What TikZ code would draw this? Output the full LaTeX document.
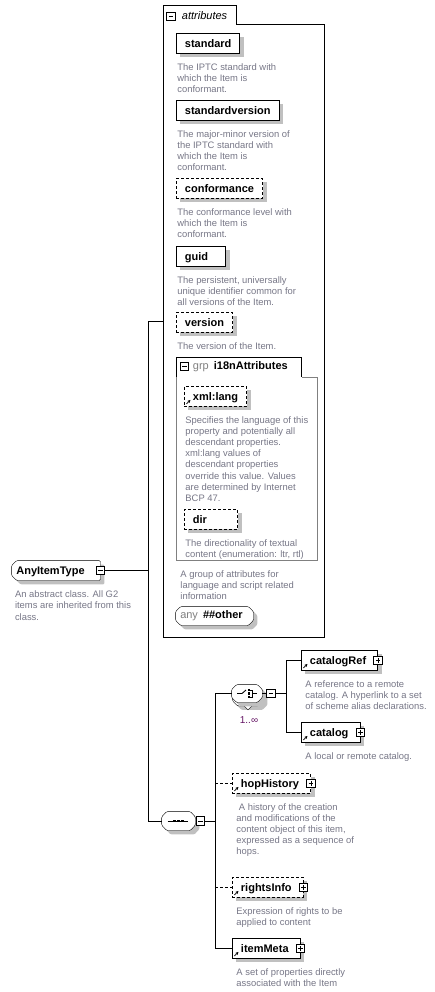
\documentclass[tikz,border=0pt]{standalone}
\usepackage{fontspec}
\setmainfont{Liberation Sans}
\usetikzlibrary{arrows.meta,positioning,calc,backgrounds,shadows}
\definecolor{descgray}{RGB}{118,118,134}
\definecolor{grpgray}{RGB}{128,128,128}
\definecolor{boxshadow}{RGB}{192,192,192}
\definecolor{multcol}{RGB}{100,20,100}
% outline of a compositor box: node, x cut, y cut
\newcommand{\octout}[3]{([xshift=#2]#1.north west) -- ([xshift=-#2]#1.north east) -- ([yshift=-#3]#1.north east)
  -- ([yshift=#3]#1.south east) -- ([xshift=-#2]#1.south east) -- ([xshift=#2]#1.south west)
  -- ([yshift=#3]#1.south west) -- ([yshift=-#3]#1.north west) -- cycle}

\begin{document}
\begin{tikzpicture}[
    x=1pt, y=-1pt,
    line width=0.9pt,
    font=\fontsize{9.4}{11.2}\selectfont,
    shade/.style={general shadow={fill=boxshadow, shadow xshift=4pt, shadow yshift=-4pt}},
    elem/.style={draw, fill=white, shade, anchor=north west, font=\fontsize{11}{13}\selectfont\bfseries,
      minimum height=20pt, inner xsep=8.5pt, inner ysep=0pt, text height=8pt, text depth=0pt},
    opt/.style={elem, dash pattern=on 3pt off 2pt},
    opt line/.style={dash pattern=on 3pt off 2pt},
    ref/.style={path picture={\draw[solid, line width=0.7pt, -{Stealth[length=3pt, width=3pt]}]
      ([shift={(2pt,2.5pt)}]path picture bounding box.south west) -- ++(4pt,4pt);}},
    padr/.style={execute at end node={\hspace{#1}}},
    desc/.style={text=descgray, align=left, inner sep=0pt},
    octnode/.style={inner sep=0pt},
    octa/.style={draw, fill=white, shade, rounded corners=1.2pt},
    pm/.style={draw, fill=white, line width=1pt, minimum size=8.5pt, inner sep=0pt},
    minus/.style={pm, path picture={\draw[line width=0.8pt] ([xshift=2pt]path picture bounding box.west)
      -- ([xshift=-2pt]path picture bounding box.east);}},
    plus/.style={pm, path picture={\draw[line width=0.8pt] ([xshift=2pt]path picture bounding box.west)
      -- ([xshift=-2pt]path picture bounding box.east) ([yshift=2pt]path picture bounding box.south)
      -- ([yshift=-2pt]path picture bounding box.north);}}
  ]
    \useasboundingbox (0,0) rectangle (435,992);

    % attributes frame
    \node[minimum width=161pt, minimum height=632pt, inner sep=0pt, anchor=north west] (attrs) at (163,5) {};
    \draw (attrs.north west) -- ++(73,0) -- ++(0,19) -| (attrs.south east) -- (attrs.south west) -- cycle;
    \node[minus] (attrpm) at (171,16.5) {};
    \node[anchor=west, inner sep=0pt, font=\fontsize{11}{13}\selectfont\itshape] (attrlbl) at (181.5,15.5) {attributes};

    \node[elem] (std) at (176,33) {standard};
    \node[desc, below right=9pt and 1pt of std.south west] (stddesc) {The IPTC standard with\\which the Item is\\conformant.};
    \node[elem] (stdver) at (176,100) {standardversion};
    \node[desc, below right=9pt and 1pt of stdver.south west] (stdverdesc) {The major-minor version of\\the IPTC standard with\\which the Item is\\conformant.};
    \node[opt] (conf) at (176,178) {conformance};
    \node[desc, below right=9pt and 1pt of conf.south west] (confdesc) {The conformance level with\\which the Item is\\conformant.};
    \node[elem, padr=9pt] (guid) at (176,246) {guid};
    \node[desc, below right=9pt and 1pt of guid.south west] (guiddesc) {The persistent, universally\\unique identifier common for\\all versions of the Item.};
    \node[opt] (ver) at (176,312) {version};
    \node[desc, below right=9pt and 1pt of ver.south west] (verdesc) {The version of the Item.};

    % attribute group
    \node[minimum width=140pt, minimum height=203pt, inner sep=0pt, anchor=north west] (grp) at (176.5,357) {};
    \draw[grpgray] ([shift={(125,20)}]grp.north west) -| (grp.south east) -| (grp.north west);
    \draw ([yshift=-20pt]grp.north west) |- ([xshift=125pt]grp.north west) -- ++(0,20);
    \node[minus] (grppm) at (184.5,366.5) {};
    \node[anchor=west, inner sep=0pt, font=\fontsize{11}{13}\selectfont] (grplbl) at (192.5,366.5) {{\color{grpgray}grp}\hspace{5pt}\textbf{i18nAttributes}};
    \node[opt, ref] (xmllang) at (184,386) {xml:lang};
    \node[desc, below right=9pt and 1pt of xmllang.south west] (xmllangdesc) {Specifies the language of this\\property and potentially all\\descendant properties.\\xml:lang values of\\descendant properties\\override this value. Values\\are determined by Internet\\BCP 47.};
    \node[opt, padr=22pt] (dir) at (184,509) {dir};
    \node[desc, below right=9pt and 1pt of dir.south west] (dirdesc) {The directionality of textual\\content (enumeration: ltr, rtl)};
    \node[desc, below right=9pt and 3.5pt of grp.south west] (grpdesc) {A group of attributes for\\language and script related\\information};

    \node[octnode, minimum width=77pt, minimum height=18pt, font=\fontsize{11}{13}\selectfont, padr=6pt] (anyother) at (214.5,616) {{\color{grpgray}any}\hspace{5pt}\textbf{\#\#other}};

    % root type
    \node[octnode, font=\fontsize{11}{13}\selectfont\bfseries, minimum width=88pt, minimum height=19pt,
      text height=8pt, text depth=0pt, padr=11pt] (root) at (56,570.5) {AnyItemType};
    \node[desc, below right=10pt and 3pt of root.south west] (rootdesc) {An abstract class. All G2\\items are inherited from this\\class.};

    % sequence
    \node[octnode, minimum width=33pt, minimum height=18pt] (seq) at (178.5,821) {};
    \draw ([xshift=-11pt]seq.center) -- ([xshift=9pt]seq.center);
    \foreach \dx in {-4,0,4}
      \fill ([xshift=\dx pt]seq.center) +(-1.3pt,-1.3pt) rectangle +(1.3pt,1.3pt);

    % choice
    \node[octnode, minimum width=30pt, minimum height=17pt] (choicebk) at (248,697) {};
    \node[octnode, minimum width=30pt, minimum height=17pt] (choice) at (247,693.5) {};
    \draw ([xshift=-10pt]choice.center) -- ++(5pt,0pt) -- ++(4pt,3.5pt);
    \foreach \dy in {-3.5,0,3.5}
      \fill ([shift={(2.2pt,\dy pt)}]choice.center) +(-1.2pt,-1.2pt) rectangle +(1.2pt,1.2pt);
    \draw ([shift={(3.4pt,3.5pt)}]choice.center) -- ++(2.5pt,0pt) -- ++(0pt,-7pt) -- ++(-2.5pt,0pt)
      ([xshift=5.9pt]choice.center) -- ++(4pt,0pt);
    \node[text=multcol, inner sep=0pt, font=\fontsize{10}{12}\selectfont] (mult) at (249,720) {1..∞};

    % compositor outlines
    \begin{scope}[on background layer]
      \filldraw[octa] ([xshift=5pt]root.north west) -- (root.north east) -- (root.south east)
        -- ([xshift=5pt]root.south west) -- ([yshift=5pt]root.south west) -- ([yshift=-5pt]root.north west) -- cycle;
      \filldraw[octa] \octout{anyother}{5pt}{5pt};
      \filldraw[octa] \octout{seq}{5pt}{5.5pt};
      \filldraw[octa] \octout{choicebk}{5pt}{5pt};
      \filldraw[fill=white] ([xshift=-4pt]choicebk.south) -- ([yshift=-4pt]choicebk.south) -- ([xshift=4pt]choicebk.south);
      \filldraw[octa] \octout{choice}{5pt}{5pt};
    \end{scope}

    \node[minus] (rootpm) at (root.east) {};
    \coordinate[right=43pt of rootpm.east] (rootj);
    \node[minus, right=0.5pt of seq] (seqpm) {};
    \coordinate[right=10pt of seqpm.east] (seqj);
    \node[minus, right=4pt of choice] (choicepm) {};
    \coordinate[right=10pt of choicepm.east] (chj);

    \node[elem, ref, padr=3pt] (catref) at (301,650) {catalogRef};
    \node[plus] (catrefpm) at (catref.east) {};
    \node[desc, below right=9pt and 4pt of catref.south west] (catrefdesc) {A reference to a remote\\catalog. A hyperlink to a set\\of scheme alias declarations.};
    \node[elem, ref, padr=3pt] (cat) at (301,722) {catalog};
    \node[plus] (catpm) at (cat.east) {};
    \node[desc, below right=9pt and 4pt of cat.south west] (catdesc) {A local or remote catalog.};

    \node[opt, ref, padr=3pt] (hop) at (232,773) {hopHistory};
    \node[plus] (hoppm) at (hop.east) {};
    \node[desc, below right=9pt and 4pt of hop.south west] (hopdesc) {\hspace{2.5pt}A history of the creation\\and modifications of the\\content object of this item,\\expressed as a sequence of\\hops.};
    \node[opt, ref, padr=3pt] (rights) at (232,877) {rightsInfo};
    \node[plus] (rightspm) at (rights.east) {};
    \node[desc, below right=9pt and 4pt of rights.south west] (rightsdesc) {Expression of rights to be\\applied to content};
    \node[elem, ref, padr=3pt] (itemmeta) at (232,938) {itemMeta};
    \node[plus] (itemmetapm) at (itemmeta.east) {};
    \node[desc, below right=9pt and 4pt of itemmeta.south west] (itemmetadesc) {A set of properties directly\\associated with the Item};

    % connectors
    \draw (rootpm.east) -- (rootj) |- (attrs.west);
    \draw (rootj) |- (seq.west);
    \draw (seqpm.east) -- (seqj) |- (choice.west);
    \draw (seqj) |- (itemmeta.west);
    \draw[opt line] (seqj |- hop.west) -- (hop.west);
    \draw[opt line] (seqj |- rights.west) -- (rights.west);
    \draw (choice.east) -- (choicepm.west);
    \draw (choicepm.east) -- (chj) |- (catref.west);
    \draw (chj) |- (cat.west);
  \end{tikzpicture}
\end{document}
